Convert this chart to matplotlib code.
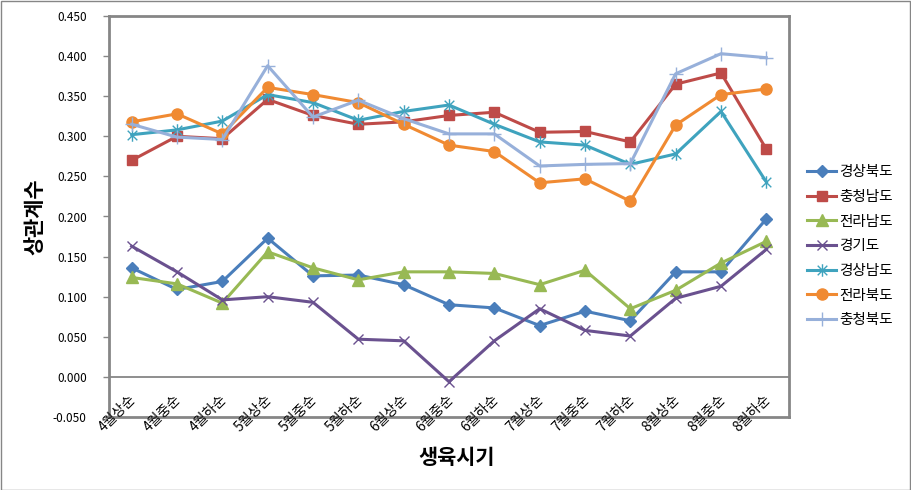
import numpy as np
import matplotlib
matplotlib.use("Agg")
import matplotlib.pyplot as plt
from matplotlib.path import Path
from matplotlib.patches import Rectangle
from matplotlib.transforms import offset_copy

plt.rcParams['font.family'] = ['Noto Sans CJK KR', 'DejaVu Sans']

periods = ["4월상순", "4월중순", "4월하순", "5월상순", "5월중순", "5월하순",
           "6월상순", "6월중순", "6월하순", "7월상순", "7월중순", "7월하순",
           "8월상순", "8월중순", "8월하순"]

gyeongbuk = [0.136, 0.109, 0.119, 0.173, 0.126, 0.127, 0.115, 0.090, 0.086, 0.064, 0.082, 0.070, 0.131, 0.131, 0.197]
chungnam = [0.270, 0.300, 0.297, 0.346, 0.326, 0.315, 0.318, 0.326, 0.330, 0.305, 0.306, 0.293, 0.365, 0.379, 0.284]
jeonnam = [0.124, 0.116, 0.092, 0.156, 0.136, 0.121, 0.131, 0.131, 0.129, 0.115, 0.133, 0.085, 0.108, 0.142, 0.169]
gyeonggi = [0.163, 0.131, 0.096, 0.100, 0.093, 0.047, 0.045, -0.006, 0.045, 0.085, 0.058, 0.051, 0.098, 0.113, 0.159]
gyeongnam = [0.302, 0.308, 0.319, 0.352, 0.342, 0.320, 0.331, 0.339, 0.315, 0.293, 0.289, 0.265, 0.278, 0.331, 0.243]
jeonbuk = [0.318, 0.328, 0.303, 0.361, 0.352, 0.342, 0.315, 0.289, 0.281, 0.242, 0.247, 0.219, 0.314, 0.352, 0.359]
chungbuk = [0.315, 0.299, 0.296, 0.388, 0.324, 0.345, 0.322, 0.303, 0.303, 0.263, 0.265, 0.266, 0.378, 0.403, 0.398]

# excel style star marker: an x plus a vertical bar
star = Path([(-1, -1), (1, 1), (-1, 1), (1, -1), (0, -1.3), (0, 1.3)],
            [Path.MOVETO, Path.LINETO, Path.MOVETO, Path.LINETO, Path.MOVETO, Path.LINETO])

series = [
    ("경상북도", gyeongbuk, "#4A7EBB", "D", 6),
    ("충청남도", chungnam, "#BE4B48", "s", 7),
    ("전라남도", jeonnam, "#98B954", "^", 8),
    ("경기도", gyeonggi, "#6A518F", "x", 7),
    ("경상남도", gyeongnam, "#3FA3BE", star, 9),
    ("전라북도", jeonbuk, "#F08A32", "o", 8),
    ("충청북도", chungbuk, "#97B0DA", "+", 10),
]

fig = plt.figure(figsize=(9.11, 4.90), dpi=100)
ax = fig.add_axes([109/911, 1 - 417/490, 680/911, 401/490])

x = np.arange(len(periods))
for name, vals, col, mk, ms in series:
    ax.plot(x, vals, color=col, lw=2.2, marker=mk, ms=ms,
            markerfacecolor=col, markeredgecolor=col, mew=1.0, label=name)

grey = "#868686"
ax.axhline(0, color=grey, lw=1.3, zorder=0)
ax.set_xlim(-0.5, len(periods) - 0.5)
ax.set_ylim(-0.05, 0.45)
ax.set_yticks(np.arange(-0.05, 0.451, 0.05))
ax.set_yticklabels([f"{v:.3f}" for v in np.arange(-0.05, 0.451, 0.05)], fontsize=8.5)
ax.tick_params(axis='y', direction='out', length=4, width=1, color=grey, pad=12)
ax.set_xticks([])
for s in ax.spines.values():
    s.set_color(grey)
    s.set_linewidth(2)

# rotated category labels, sitting across the bottom border like excel does
trans = offset_copy(ax.transData, fig=fig, x=2, y=20, units='dots')
for i, lab in enumerate(periods):
    ax.text(i, -0.05, lab, transform=trans, rotation=45, rotation_mode='anchor',
            ha='right', va='center', fontsize=10, clip_on=False)

fig.text(457/911, 1 - 457/490, "생육시기", ha='center', va='center',
         fontsize=15, fontweight='bold')
fig.text(35/911, 1 - 217/490, "상관계수", ha='center', va='center',
         fontsize=15, fontweight='bold', rotation=90)

ax.legend(loc='upper left', bbox_to_anchor=(800/911, 1 - 158/490),
          bbox_transform=fig.transFigure, frameon=False, fontsize=10.5,
          handlelength=2.0, handletextpad=0.2, labelspacing=0.73, borderpad=0)

fig.patches.append(Rectangle((0.5/911, 0.5/490), 1 - 1.5/911, 1 - 1.5/490,
                             transform=fig.transFigure, fill=False,
                             edgecolor=grey, lw=1))

fig.savefig("out.png", dpi=100)
